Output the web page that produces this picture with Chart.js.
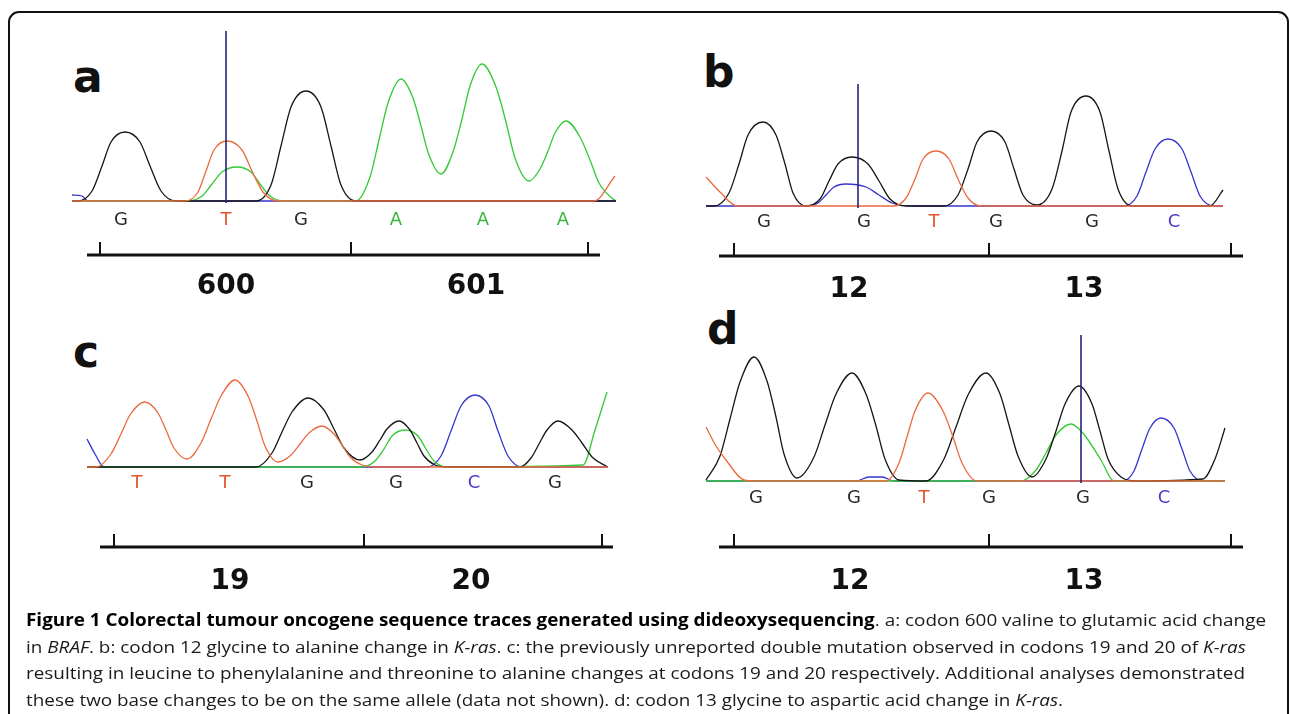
<!DOCTYPE html>
<html>
<head>
<meta charset="utf-8">
<script src="https://cdn.jsdelivr.net/npm/chart.js@4.4.1/dist/chart.umd.min.js"></script>
<style>
html, body { margin: 0; padding: 0; background: #fff; }
body { width: 1290px; height: 714px; position: relative; overflow: hidden; }
#frame { position: absolute; left: 8px; top: 11px; width: 1281px; height: 760px; box-sizing: border-box;
         border: 2px solid #111; border-radius: 11px; }
canvas { position: absolute; }
.lbl { position: absolute; font: bold 44px "DejaVu Sans", sans-serif; line-height: 44px; color: #111; }
#caption { position: absolute; left: 26px; top: 607px; font: 17px "Open Sans", sans-serif; line-height: 26.5px;
           color: #1a1a1a; white-space: nowrap; transform-origin: 0 0; }
#caption b { color: #000; }
</style>
</head>
<body>
<div id="frame"></div>
<div class="lbl" style="left:73px;top:55px">a</div>
<div class="lbl" style="left:703px;top:50px">b</div>
<div class="lbl" style="left:73px;top:330px">c</div>
<div class="lbl" style="left:707px;top:307px">d</div>

<canvas id="pa" width="580" height="300" style="left:60px;top:20px"></canvas>
<canvas id="pb" width="570" height="240" style="left:690px;top:70px"></canvas>
<canvas id="pc" width="580" height="280" style="left:60px;top:330px"></canvas>
<canvas id="pd" width="570" height="285" style="left:690px;top:325px"></canvas>

<div id="caption">
<div><span class="ln"><b>Figure 1 Colorectal tumour oncogene sequence traces generated using dideoxysequencing</b>. a: codon 600 valine to glutamic acid change</span></div>
<div><span class="ln">in <i>BRAF</i>. b: codon 12 glycine to alanine change in <i>K-ras</i>. c: the previously unreported double mutation observed in codons 19 and 20 of <i>K-ras</i></span></div>
<div><span class="ln">resulting in leucine to phenylalanine and threonine to alanine changes at codons 19 and 20 respectively. Additional analyses demonstrated</span></div>
<div><span class="ln">these two base changes to be on the same allele (data not shown). d: codon 13 glycine to aspartic acid change in <i>K-ras</i>.</span></div>
</div>

<script>
// trace values: [scan position, signal]

// a: BRAF codons 600-601
const aBases = ['G', 'T', 'G', 'A', 'A', 'A'];
const aBasePos = [49, 154, 229, 324, 411, 491];
const aCodons = ['600', '601'];
const aCodonPos = [154, 404];
const aCodonTicks = [28, 279, 516];
const aCursor = 154;
const aG = [[0,0],[6,0],[20,10],[30,35],[39,59],[53,69],[68,59],[78,35],[89,10],[104,0],[184,0],[199,16],[209,55],[219,94],[234,110],[249,94],[259,55],[269,16],[284,0],[544,0]];
const aA = [[0,0],[115,0],[130,5],[140,17],[150,29],[165,34],[179,29],[188,17],[198,5],[212,0],[284,0],[298,24],[307,61],[316,98],[329,122],[341,103],[349,75],[357,46],[369,27],[381,49],[390,82],[398,115],[410,137],[424,114],[434,79],[443,43],[457,20],[468,32],[476,50],[483,68],[494,80],[508,64],[518,41],[527,18],[541,2],[544,0]];
const aT = [[0,0],[113,0],[126,9],[134,30],[142,51],[155,60],[170,51],[180,30],[191,9],[206,0],[522,0],[543,25]];
const aC = [[0,6],[10,5],[16,0],[544,0]];

// b: K-ras codons 12-13
const bBases = ['G', 'G', 'T', 'G', 'G', 'C'];
const bBasePos = [58, 158, 228, 290, 386, 468];
const bCodons = ['12', '13'];
const bCodonPos = [143, 378];
const bCodonTicks = [28, 283, 525];
const bCursor = 152;
const bG = [[0,0],[8,0],[23,13],[33,42],[42,71],[57,84],[70,71],[79,42],[87,13],[100,0],[114,7],[123,25],[132,42],[146,49],[162,42],[173,25],[184,7],[200,0],[238,0],[252,11],[262,37],[271,64],[285,75],[299,64],[308,37],[317,11],[331,1],[346,17],[356,55],[365,94],[380,110],[394,94],[403,55],[412,17],[426,0],[504,0],[517,16]];
const bA = [];
const bT = [[0,29],[15,13],[31,0],[188,0],[200,8],[209,27],[217,47],[230,55],[243,47],[252,27],[262,8],[275,0],[517,0]];
const bC = [[0,0],[100,0],[112,3],[120,11],[128,19],[140,22],[160,19],[173,11],[186,3],[206,0],[418,0],[431,10],[440,34],[449,57],[462,67],[476,57],[485,34],[494,10],[508,0],[517,0]];

// c: K-ras codons 19-20
const cBases = ['T', 'T', 'G', 'G', 'C', 'G'];
const cBasePos = [50, 138, 220, 309, 387, 468];
const cCodons = ['19', '20'];
const cCodonPos = [143, 384];
const cCodonTicks = [27, 277, 515];
const cCursor = null;
const cG = [[0,0],[169,0],[185,14],[195,35],[205,55],[221,69],[237,57],[247,38],[257,19],[273,7],[285,15],[293,27],[300,38],[312,46],[323,37],[330,24],[337,11],[348,2],[360,0],[433,0],[444,9],[452,23],[460,37],[471,46],[485,37],[495,24],[505,10],[519,1],[521,0]];
const cA = [[0,0],[275,0],[288,6],[297,18],[305,31],[318,37],[331,31],[339,18],[347,6],[360,0],[496,2],[508,37],[520,75]];
const cT = [[0,0],[9,0],[24,13],[34,33],[43,52],[58,65],[71,54],[79,37],[87,19],[100,8],[114,24],[124,48],[134,71],[148,87],[161,71],[170,46],[178,21],[191,5],[204,12],[213,23],[222,34],[235,41],[247,33],[255,22],[263,10],[275,2],[290,0],[521,0]];
const cC = [[0,28],[8,13],[17,0],[340,0],[354,11],[364,36],[374,61],[388,72],[402,61],[411,36],[421,11],[435,0],[521,0]];

// d: K-ras codons 12-13
const dBases = ['G', 'G', 'T', 'G', 'G', 'C'];
const dBasePos = [50, 148, 218, 283, 377, 458];
const dCodons = ['12', '13'];
const dCodonPos = [144, 378];
const dCodonTicks = [28, 283, 525];
const dCursor = 375;
const dG = [[0,1],[14,25],[24,62],[34,99],[48,124],[61,100],[70,64],[78,27],[91,3],[108,24],[119,56],[130,87],[146,108],[160,87],[170,55],[179,22],[193,1],[220,0],[238,22],[250,54],[262,86],[280,108],[294,87],[303,56],[312,25],[326,4],[340,22],[350,50],[359,77],[373,95],[386,77],[394,50],[402,22],[415,4],[430,0],[497,2],[509,22],[519,53]];
const dA = [[0,0],[315,0],[330,11],[340,28],[350,46],[365,57],[373,52],[380,44],[395,21],[408,0],[519,0]];
const dT = [[0,54],[10,35],[20,21],[38,1],[50,0],[180,0],[193,18],[201,44],[209,70],[222,88],[237,70],[247,44],[256,18],[271,0],[519,0]];
const dC = [[0,0],[150,0],[163,4],[176,4],[188,0],[417,0],[428,10],[436,32],[444,53],[455,63],[468,53],[476,32],[484,10],[497,0],[519,0]];

const traceColors = { G: '#161616', A: '#33c933', T: '#ea6a3e', C: '#3535cf' };
const labelColors = { G: '#2a2a2a', A: '#3cb43c', T: '#e0562c', C: '#4a3cc8' };

// ruler / label placement for each chart, page px (left, top = canvas; x0..x1, yTop..base = plot box)
const panels = [
    { id: 'pa', left: 60, top: 20, width: 580, height: 300, x0: 72, x1: 616, yTop: 28, base: 201,
      span: 544, ruler: [15, 528], labelDy: 19, rulerDy: 54, codonDy: 86,
      G: aG, A: aA, T: aT, C: aC, cursor: aCursor, cursorTop: 170,
      bases: aBases, basePos: aBasePos, codons: aCodons, codonPos: aCodonPos, ticks: aCodonTicks },
    { id: 'pb', left: 690, top: 70, width: 570, height: 240, x0: 706, x1: 1223, yTop: 82, base: 206,
      span: 517, ruler: [13, 537], labelDy: 16, rulerDy: 50, codonDy: 84,
      G: bG, A: bA, T: bT, C: bC, cursor: bCursor, cursorTop: 122,
      bases: bBases, basePos: bBasePos, codons: bCodons, codonPos: bCodonPos, ticks: bCodonTicks },
    { id: 'pc', left: 60, top: 330, width: 580, height: 280, x0: 87, x1: 608, yTop: 370, base: 467,
      span: 521, ruler: [13, 526], labelDy: 16, rulerDy: 80, codonDy: 115,
      G: cG, A: cA, T: cT, C: cC, cursor: cCursor, cursorTop: 0,
      bases: cBases, basePos: cBasePos, codons: cCodons, codonPos: cCodonPos, ticks: cCodonTicks },
    { id: 'pd', left: 690, top: 325, width: 570, height: 285, x0: 706, x1: 1225, yTop: 333, base: 481,
      span: 519, ruler: [13, 537], labelDy: 17, rulerDy: 66, codonDy: 101,
      G: dG, A: dA, T: dT, C: dC, cursor: dCursor, cursorTop: 146,
      bases: dBases, basePos: dBasePos, codons: dCodons, codonPos: dCodonPos, ticks: dCodonTicks },
];

const pts = arr => arr.map(([x, y]) => ({ x, y }));

// base calls, codon ruler and codon numbers under the trace
const decor = p => ({
    id: 'decor',
    afterDatasetsDraw(chart) {
        const { ctx, scales: { x, y } } = chart;
        const base = y.getPixelForValue(0);
        ctx.save();
        ctx.textAlign = 'center';
        ctx.textBaseline = 'middle';
        ctx.font = '18px "DejaVu Sans"';
        p.bases.forEach((b, i) => {
            ctx.fillStyle = labelColors[b];
            ctx.fillText(b, x.getPixelForValue(p.basePos[i]), base + p.labelDy);
        });
        const ry = base + p.rulerDy;
        ctx.strokeStyle = '#111';
        ctx.lineWidth = 3;
        ctx.beginPath();
        ctx.moveTo(x.getPixelForValue(p.ruler[0]), ry);
        ctx.lineTo(x.getPixelForValue(p.ruler[1]), ry);
        ctx.stroke();
        ctx.lineWidth = 2;
        p.ticks.forEach(t => {
            const tx = Math.round(x.getPixelForValue(t));
            ctx.beginPath();
            ctx.moveTo(tx, ry);
            ctx.lineTo(tx, ry - 13);
            ctx.stroke();
        });
        ctx.fillStyle = '#111';
        ctx.font = 'bold 28px "DejaVu Sans"';
        p.codons.forEach((c, i) => ctx.fillText(c, x.getPixelForValue(p.codonPos[i]), base + p.codonDy));
        ctx.restore();
    }
});

const trace = (data, color) => ({
    data: pts(data), borderColor: color, borderWidth: 1.3, pointRadius: 0,
    cubicInterpolationMode: 'monotone', fill: false, clip: false
});

function drawPanel(p) {
    const datasets = [];
    if (p.cursor !== null) {
        datasets.push({ data: pts([[p.cursor, -2], [p.cursor, p.cursorTop]]), borderColor: '#24247e',
                        borderWidth: 1.6, pointRadius: 0, fill: false, clip: false });
    }
    datasets.push(trace(p.T, traceColors.T));
    datasets.push(trace(p.G, traceColors.G));
    datasets.push(trace(p.A, traceColors.A));
    datasets.push(trace(p.C, traceColors.C));

    new Chart(document.getElementById(p.id), {
        type: 'line',
        data: { datasets },
        options: {
            responsive: false,
            animation: false,
            events: [],
            layout: { padding: { left: p.x0 - p.left, right: p.left + p.width - p.x1,
                                 top: p.yTop - p.top, bottom: p.top + p.height - p.base - 2 } },
            scales: {
                x: { type: 'linear', min: 0, max: p.span, display: false },
                y: { min: -2, max: p.base - p.yTop, display: false },
            },
            plugins: { legend: { display: false }, tooltip: { enabled: false } },
        },
        plugins: [decor(p)],
    });
}

function fitCaption() {
    const cap = document.getElementById('caption');
    const lines = cap.querySelectorAll('.ln');
    const targets = [1251, 1224, 1204];
    let nat = 0, tgt = 0;
    targets.forEach((t, i) => { nat += lines[i].getBoundingClientRect().width; tgt += t; });
    cap.style.transform = 'scaleX(' + (tgt / nat).toFixed(4) + ')';
}

document.fonts.ready.then(() => {
    panels.forEach(drawPanel);
    fitCaption();
});
</script>
</body>
</html>
